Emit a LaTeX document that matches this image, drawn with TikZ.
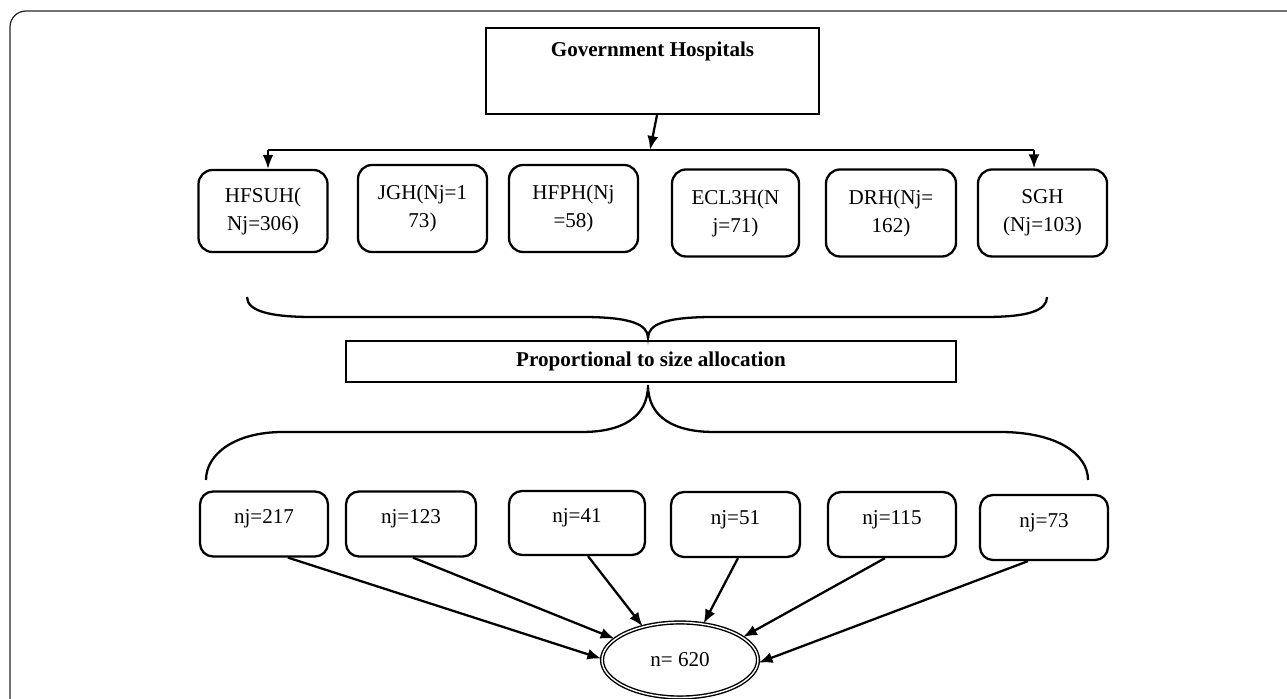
\documentclass[tikz,border=0pt]{standalone}
\usepackage{fontspec}
\setmainfont{Liberation Serif}
\usetikzlibrary{arrows.meta,shapes.geometric}
\tikzset{
  hospbox/.style={draw, line width=1.3pt, rounded corners=0.28cm, minimum width=2.58cm,
    minimum height=1.74cm, align=center, inner sep=2pt},
  samplebox/.style={draw, line width=1.3pt, rounded corners=0.26cm, minimum width=2.56cm,
    minimum height=1.30cm, text height=0.3cm, text depth=0.3cm, inner sep=2pt},
  titlebox/.style={draw, line width=1.3pt, font=\bfseries},
  arr/.style={line width=1.3pt, -{Latex[length=2.8mm,width=2.2mm]}},
}
\begin{document}
\begin{tikzpicture}
                            \useasboundingbox (0,0) rectangle (25.740000,13.980000);
                            {\fontsize{12}{16}\selectfont

                            % Drawing frame
                            \draw [line width=0.7pt, black!85, rounded corners=0.32cm] (0.200000,-0.200000) -- (0.200000,13.760000) -- (26.000000,13.760000);%

                            % Marking box gov
                            \node [titlebox, minimum width=6.660000cm, minimum height=1.720000cm, text height=0.3cm, text depth=0.86cm] (gov) at (13.050000,12.560000) { Government Hospitals };%

                            % Drawing line hub
                            \coordinate (hub) at (13.000000,10.980000);
                            \coordinate (hl) at (5.360000,10.980000);
                            \coordinate (hr) at (20.680000,10.980000);
                            \draw [arr] ([xshift=0.09cm]gov.south) -- (hub);%
                            \draw [line width=1.3pt] (hl) -- (hr);%

                            % Marking hospitals
                            \node [hospbox, minimum height=1.640000cm] (hfsuh) at (5.260000,9.760000) { HFSUH(\\Nj=306) };%
                            \node [hospbox] (jgh) at (8.450000,9.810000) { JGH(Nj=1\\73) };%
                            \node [hospbox] (hfph) at (11.470000,9.810000) { HFPH(Nj\\=58) };%
                            \node [hospbox, minimum width=2.540000cm] (ecl) at (14.710000,9.720000) { ECL3H(N\\j=71) };%
                            \node [hospbox, minimum width=2.600000cm] (drh) at (17.820000,9.720000) { DRH(Nj=\\162) };%
                            \node [hospbox] (sgh) at (20.850000,9.720000) { SGH\\(Nj=103) };%

                            % Drawing arrows to end boxes
                            \draw [arr] (hl) -- (hl |- hfsuh.north);%
                            \draw [arr] (hr) -- (hr |- sgh.north);%

                            % Drawing upper brace
                            \draw [line width=1.3pt] (4.940000,8.040000) .. controls (4.940000,7.760000) and (5.400000,7.640000) .. (6.240000,7.640000)
                              -- (11.640000,7.640000) .. controls (12.600000,7.640000) and (12.960000,7.500000) .. (12.960000,7.220000)
                              .. controls (12.960000,7.500000) and (13.320000,7.640000) .. (14.280000,7.640000)
                              -- (19.700000,7.640000) .. controls (20.540000,7.640000) and (20.940000,7.760000) .. (20.940000,8.040000);%

                            % Marking box alloc
                            \node [titlebox, minimum width=12.200000cm, minimum height=0.820000cm] (alloc) at (13.020000,6.750000) { Proportional to size allocation };%

                            % Drawing lower brace
                            \draw [line width=1.3pt] (4.120000,4.380000) .. controls (4.120000,4.900000) and (4.700000,5.340000) .. (5.660000,5.340000)
                              -- (11.640000,5.340000) .. controls (12.420000,5.340000) and (12.960000,5.620000) .. (12.960000,6.280000)
                              .. controls (12.960000,5.620000) and (13.500000,5.340000) .. (14.280000,5.340000)
                              -- (20.000000,5.340000) .. controls (21.140000,5.340000) and (21.760000,4.900000) .. (21.760000,4.380000);%

                            % Marking samples
                            \node [samplebox] (nja) at (5.280000,3.500000) { nj=217 };%
                            \node [samplebox, minimum width=2.600000cm] (njb) at (8.220000,3.500000) { nj=123 };%
                            \node [samplebox, minimum width=2.720000cm, minimum height=1.280000cm] (njc) at (11.540000,3.520000) { nj=41 };%
                            \node [samplebox, minimum width=2.580000cm] (njd) at (14.710000,3.490000) { nj=51 };%
                            \node [samplebox] (nje) at (17.840000,3.490000) { nj=115 };%
                            \node [samplebox] (njf) at (20.880000,3.430000) { nj=73 };%

                            % Marking total
                            \node [ellipse, draw, double, double distance=0.8pt, line width=0.8pt, minimum width=3.120000cm, minimum height=1.500000cm] (total) at (13.600000,0.780000) { n= 620 };%

                            % Drawing arrows to total
                            \draw [arr] ([xshift=0.48cm]nja.south) -- (total.179);%
                            \draw [arr] ([xshift=0.04cm]njb.south) -- (total.162);%
                            \draw [arr] ([xshift=0.22cm]njc.south) -- (total.138);%
                            \draw [arr] ([xshift=0.05cm]njd.south) -- (total.57);%
                            \draw [arr] ([xshift=-0.14cm]nje.south) -- (total.20);%
                            \draw [arr] ([xshift=-0.32cm]njf.south) -- (total.358);%
                            }
                        \end{tikzpicture}
\end{document}
